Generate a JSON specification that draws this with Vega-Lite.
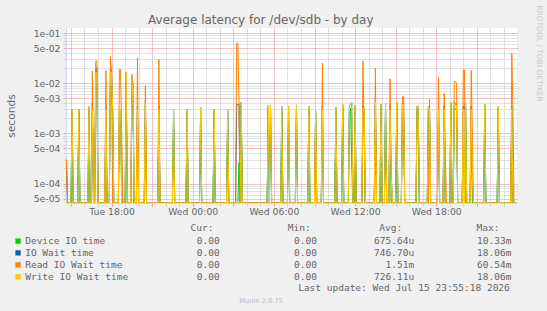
{
"$schema": "https://vega.github.io/schema/vega-lite/v6.json",
"width": 451, "height": 175,
"autosize": {"type": "none"},
"padding": {"left": 66, "top": 28, "right": 30, "bottom": 108},
"background": "#F0F0F0",
"title": {"text": "Average latency for /dev/sdb - by day", "font": "DejaVu Sans", "fontSize": 12, "fontWeight": "normal", "color": "#666666", "anchor": "middle", "frame": "group", "offset": 4, "dx": -30.7, "dy": 35.3, "baseline": "alphabetic"},
"data": {"values": [
{"t":"2026-07-14T14:35Z","d":1e-6,"i":1e-6,"r":1e-6,"w":1e-6},
{"t":"2026-07-14T14:40Z","d":1e-6,"i":3e-4,"r":3e-4,"w":1e-6},
{"t":"2026-07-14T14:45Z","d":1e-6,"i":1e-6,"r":1e-6,"w":1e-6},
{"t":"2026-07-14T15:00Z","d":1e-6,"i":1e-6,"r":1e-6,"w":1e-6},
{"t":"2026-07-14T15:05Z","d":2.6e-3,"i":3e-3,"r":1e-6,"w":3e-3},
{"t":"2026-07-14T15:10Z","d":1e-6,"i":1e-6,"r":1e-6,"w":1e-6},
{"t":"2026-07-14T15:30Z","d":1e-6,"i":1e-6,"r":1e-6,"w":1e-6},
{"t":"2026-07-14T15:35Z","d":2.6e-3,"i":3e-3,"r":1e-6,"w":3e-3},
{"t":"2026-07-14T15:40Z","d":1e-6,"i":1e-6,"r":1e-6,"w":1e-6},
{"t":"2026-07-14T16:15Z","d":1e-6,"i":1e-6,"r":1e-6,"w":1e-6},
{"t":"2026-07-14T16:20Z","d":2.9e-3,"i":3.4e-3,"r":1e-6,"w":3.4e-3},
{"t":"2026-07-14T16:25Z","d":1e-6,"i":1e-6,"r":1e-6,"w":1e-6},
{"t":"2026-07-14T16:30Z","d":1e-6,"i":1e-6,"r":1e-6,"w":1e-6},
{"t":"2026-07-14T16:35Z","d":2.6e-3,"i":4e-3,"r":0.0176,"w":3e-3},
{"t":"2026-07-14T16:40Z","d":1e-6,"i":1e-6,"r":1e-6,"w":1e-6},
{"t":"2026-07-14T16:45Z","d":1e-6,"i":1e-6,"r":1e-6,"w":1e-6},
{"t":"2026-07-14T16:50Z","d":0.01,"i":0.02,"r":0.028,"w":0.016},
{"t":"2026-07-14T16:55Z","d":0.01,"i":0.02,"r":0.028,"w":0.016},
{"t":"2026-07-14T17:00Z","d":1e-6,"i":1e-6,"r":1e-6,"w":1e-6},
{"t":"2026-07-14T17:30Z","d":1e-6,"i":1e-6,"r":1e-6,"w":1e-6},
{"t":"2026-07-14T17:35Z","d":2.6e-3,"i":3.5e-3,"r":0.0176,"w":3e-3},
{"t":"2026-07-14T17:40Z","d":1e-6,"i":1e-6,"r":1e-6,"w":1e-6},
{"t":"2026-07-14T17:50Z","d":1e-6,"i":1e-6,"r":1e-6,"w":1e-6},
{"t":"2026-07-14T17:55Z","d":0.01,"i":0.02,"r":0.034,"w":0.017},
{"t":"2026-07-14T18:00Z","d":0.008,"i":0.016,"r":0.016,"w":0.016},
{"t":"2026-07-14T18:05Z","d":2.6e-3,"i":3e-3,"r":1e-6,"w":3e-3},
{"t":"2026-07-14T18:10Z","d":1e-6,"i":1e-6,"r":1e-6,"w":1e-6},
{"t":"2026-07-14T18:30Z","d":1e-6,"i":1e-6,"r":1e-6,"w":1e-6},
{"t":"2026-07-14T18:35Z","d":2.6e-3,"i":3e-3,"r":0.019,"w":3e-3},
{"t":"2026-07-14T18:40Z","d":2.6e-3,"i":3e-3,"r":0.019,"w":3e-3},
{"t":"2026-07-14T18:45Z","d":1e-6,"i":1.3e-4,"r":9.3e-4,"w":1e-6},
{"t":"2026-07-14T18:50Z","d":1e-6,"i":1e-6,"r":1e-6,"w":1e-6},
{"t":"2026-07-14T19:00Z","d":1e-6,"i":1e-6,"r":1e-6,"w":1e-6},
{"t":"2026-07-14T19:05Z","d":0.01,"i":0.0166,"r":1e-6,"w":0.0166},
{"t":"2026-07-14T19:10Z","d":1e-6,"i":1e-6,"r":1e-6,"w":1e-6},
{"t":"2026-07-14T19:25Z","d":1e-6,"i":1e-6,"r":1e-6,"w":1e-6},
{"t":"2026-07-14T19:30Z","d":2.6e-3,"i":3.5e-3,"r":0.015,"w":3e-3},
{"t":"2026-07-14T19:35Z","d":6e-3,"i":0.01,"r":0.01,"w":0.01},
{"t":"2026-07-14T19:40Z","d":1e-6,"i":1e-6,"r":1e-6,"w":1e-6},
{"t":"2026-07-14T19:50Z","d":1e-6,"i":1e-6,"r":1e-6,"w":1e-6},
{"t":"2026-07-14T19:55Z","d":2.6e-3,"i":3.5e-3,"r":0.032,"w":3e-3},
{"t":"2026-07-14T20:00Z","d":1e-6,"i":1e-6,"r":1e-6,"w":1e-6},
{"t":"2026-07-14T20:25Z","d":1e-6,"i":1e-6,"r":1e-6,"w":1e-6},
{"t":"2026-07-14T20:30Z","d":3.5e-3,"i":4.5e-3,"r":8.8e-3,"w":4.1e-3},
{"t":"2026-07-14T20:35Z","d":1e-6,"i":1e-6,"r":1e-6,"w":1e-6},
{"t":"2026-07-14T21:25Z","d":1e-6,"i":1e-6,"r":1e-6,"w":1e-6},
{"t":"2026-07-14T21:30Z","d":2.6e-3,"i":3.5e-3,"r":0.03,"w":3e-3},
{"t":"2026-07-14T21:35Z","d":1e-6,"i":1e-6,"r":1e-6,"w":1e-6},
{"t":"2026-07-14T22:30Z","d":1e-6,"i":1e-6,"r":1e-6,"w":1e-6},
{"t":"2026-07-14T22:35Z","d":2.6e-3,"i":3e-3,"r":1e-6,"w":3e-3},
{"t":"2026-07-14T22:40Z","d":1e-6,"i":1e-6,"r":1e-6,"w":1e-6},
{"t":"2026-07-14T23:30Z","d":1e-6,"i":1e-6,"r":1e-6,"w":1e-6},
{"t":"2026-07-14T23:35Z","d":2.6e-3,"i":3e-3,"r":1e-6,"w":3e-3},
{"t":"2026-07-14T23:40Z","d":1e-6,"i":1e-6,"r":1e-6,"w":1e-6},
{"t":"2026-07-15T00:30Z","d":1e-6,"i":1e-6,"r":1e-6,"w":1e-6},
{"t":"2026-07-15T00:35Z","d":2.8e-3,"i":3.3e-3,"r":1e-6,"w":3.3e-3},
{"t":"2026-07-15T00:40Z","d":1e-6,"i":1e-6,"r":1e-6,"w":1e-6},
{"t":"2026-07-15T01:30Z","d":1e-6,"i":1e-6,"r":1e-6,"w":1e-6},
{"t":"2026-07-15T01:35Z","d":2.6e-3,"i":3e-3,"r":1e-6,"w":3e-3},
{"t":"2026-07-15T01:40Z","d":1e-6,"i":1e-6,"r":1e-6,"w":1e-6},
{"t":"2026-07-15T02:30Z","d":1e-6,"i":1e-6,"r":1e-6,"w":1e-6},
{"t":"2026-07-15T02:35Z","d":2.6e-3,"i":3e-3,"r":1e-6,"w":3e-3},
{"t":"2026-07-15T02:40Z","d":1e-6,"i":1e-6,"r":1e-6,"w":1e-6},
{"t":"2026-07-15T03:10Z","d":1e-6,"i":1e-6,"r":1e-6,"w":1e-6},
{"t":"2026-07-15T03:15Z","d":1e-6,"i":3.8e-3,"r":0.063,"w":1e-6},
{"t":"2026-07-15T03:20Z","d":1e-6,"i":3.8e-3,"r":0.063,"w":1e-6},
{"t":"2026-07-15T03:25Z","d":2.6e-4,"i":3.8e-3,"r":4.5e-3,"w":1e-6},
{"t":"2026-07-15T03:30Z","d":1e-6,"i":1e-6,"r":1e-6,"w":1e-6},
{"t":"2026-07-15T03:35Z","d":3.5e-3,"i":4.2e-3,"r":1e-6,"w":4.2e-3},
{"t":"2026-07-15T03:40Z","d":1e-6,"i":1e-6,"r":1e-6,"w":1e-6},
{"t":"2026-07-15T05:30Z","d":1e-6,"i":1e-6,"r":1e-6,"w":1e-6},
{"t":"2026-07-15T05:35Z","d":3e-3,"i":3.6e-3,"r":1e-6,"w":3.6e-3},
{"t":"2026-07-15T05:40Z","d":1e-6,"i":1e-6,"r":1e-6,"w":1e-6},
{"t":"2026-07-15T05:45Z","d":3e-3,"i":3.6e-3,"r":1e-6,"w":3.6e-3},
{"t":"2026-07-15T05:50Z","d":1e-6,"i":1e-6,"r":1e-6,"w":1e-6},
{"t":"2026-07-15T06:30Z","d":1e-6,"i":1e-6,"r":1e-6,"w":1e-6},
{"t":"2026-07-15T06:35Z","d":2.9e-3,"i":3.4e-3,"r":1e-6,"w":3.4e-3},
{"t":"2026-07-15T06:40Z","d":1e-6,"i":1e-6,"r":1e-6,"w":1e-6},
{"t":"2026-07-15T07:00Z","d":1e-6,"i":1e-6,"r":1e-6,"w":1e-6},
{"t":"2026-07-15T07:05Z","d":3e-3,"i":3.5e-3,"r":1e-6,"w":3.5e-3},
{"t":"2026-07-15T07:10Z","d":1e-6,"i":1e-6,"r":1e-6,"w":1e-6},
{"t":"2026-07-15T07:35Z","d":1e-6,"i":1e-6,"r":1e-6,"w":1e-6},
{"t":"2026-07-15T07:40Z","d":3.1e-3,"i":3.7e-3,"r":1e-6,"w":3.7e-3},
{"t":"2026-07-15T07:45Z","d":1e-6,"i":1e-6,"r":1e-6,"w":1e-6},
{"t":"2026-07-15T08:30Z","d":1e-6,"i":1e-6,"r":1e-6,"w":1e-6},
{"t":"2026-07-15T08:35Z","d":2.9e-3,"i":3.4e-3,"r":1e-6,"w":3.4e-3},
{"t":"2026-07-15T08:40Z","d":1e-6,"i":1e-6,"r":1e-6,"w":1e-6},
{"t":"2026-07-15T09:00Z","d":1e-6,"i":1e-6,"r":1e-6,"w":1e-6},
{"t":"2026-07-15T09:05Z","d":2.4e-3,"i":2.8e-3,"r":2.8e-3,"w":2.8e-3},
{"t":"2026-07-15T09:10Z","d":1e-6,"i":1e-6,"r":1e-6,"w":1e-6},
{"t":"2026-07-15T09:30Z","d":1e-6,"i":1e-6,"r":1e-6,"w":1e-6},
{"t":"2026-07-15T09:35Z","d":2.6e-3,"i":3.5e-3,"r":0.025,"w":3e-3},
{"t":"2026-07-15T09:40Z","d":1e-6,"i":1e-6,"r":1e-6,"w":1e-6},
{"t":"2026-07-15T10:30Z","d":1e-6,"i":1e-6,"r":1e-6,"w":1e-6},
{"t":"2026-07-15T10:35Z","d":2.8e-3,"i":3.3e-3,"r":1e-6,"w":3.3e-3},
{"t":"2026-07-15T10:40Z","d":1e-6,"i":1e-6,"r":1e-6,"w":1e-6},
{"t":"2026-07-15T11:00Z","d":1e-6,"i":1e-6,"r":1e-6,"w":1e-6},
{"t":"2026-07-15T11:05Z","d":3.2e-3,"i":3.8e-3,"r":1e-6,"w":3.8e-3},
{"t":"2026-07-15T11:10Z","d":1e-6,"i":1e-6,"r":1e-6,"w":1e-6},
{"t":"2026-07-15T11:30Z","d":1e-6,"i":1e-6,"r":1e-6,"w":1e-6},
{"t":"2026-07-15T11:35Z","d":3e-3,"i":3.6e-3,"r":1e-6,"w":3.6e-3},
{"t":"2026-07-15T11:40Z","d":3.2e-3,"i":3.8e-3,"r":1e-6,"w":3.8e-3},
{"t":"2026-07-15T11:45Z","d":2.8e-4,"i":4.2e-3,"r":1e-6,"w":4.2e-3},
{"t":"2026-07-15T11:50Z","d":1e-6,"i":1e-6,"r":1e-6,"w":1e-6},
{"t":"2026-07-15T11:55Z","d":1e-6,"i":1e-6,"r":1e-6,"w":1e-6},
{"t":"2026-07-15T12:00Z","d":3e-3,"i":3.6e-3,"r":1e-6,"w":3.6e-3},
{"t":"2026-07-15T12:05Z","d":1e-6,"i":1e-6,"r":1e-6,"w":1e-6},
{"t":"2026-07-15T12:30Z","d":1e-6,"i":1e-6,"r":1e-6,"w":1e-6},
{"t":"2026-07-15T12:35Z","d":2.6e-3,"i":3.5e-3,"r":0.028,"w":3e-3},
{"t":"2026-07-15T12:40Z","d":2.7e-3,"i":3.2e-3,"r":1.1e-3,"w":3.2e-3},
{"t":"2026-07-15T12:45Z","d":1e-6,"i":1e-6,"r":1e-6,"w":1e-6},
{"t":"2026-07-15T13:25Z","d":1e-6,"i":1e-6,"r":1e-6,"w":1e-6},
{"t":"2026-07-15T13:30Z","d":3.6e-3,"i":4.5e-3,"r":0.02,"w":4.3e-3},
{"t":"2026-07-15T13:35Z","d":1e-6,"i":1e-6,"r":1e-6,"w":1e-6},
{"t":"2026-07-15T13:50Z","d":1e-6,"i":1e-6,"r":1e-6,"w":1e-6},
{"t":"2026-07-15T13:55Z","d":3.2e-3,"i":3.8e-3,"r":1e-6,"w":3.8e-3},
{"t":"2026-07-15T14:00Z","d":1e-6,"i":1e-6,"r":1e-6,"w":1e-6},
{"t":"2026-07-15T14:10Z","d":1e-6,"i":1e-6,"r":1e-6,"w":1e-6},
{"t":"2026-07-15T14:15Z","d":3.4e-3,"i":4e-3,"r":1e-6,"w":4e-3},
{"t":"2026-07-15T14:20Z","d":1e-6,"i":1e-6,"r":1e-6,"w":1e-6},
{"t":"2026-07-15T14:30Z","d":1e-6,"i":1e-6,"r":1e-6,"w":1e-6},
{"t":"2026-07-15T14:35Z","d":2.6e-3,"i":3.5e-3,"r":0.0122,"w":3e-3},
{"t":"2026-07-15T14:40Z","d":1e-6,"i":1.5e-4,"r":1.7e-4,"w":1.5e-4},
{"t":"2026-07-15T14:45Z","d":1e-6,"i":1e-6,"r":1e-6,"w":1e-6},
{"t":"2026-07-15T15:00Z","d":1e-6,"i":1e-6,"r":1e-6,"w":1e-6},
{"t":"2026-07-15T15:05Z","d":3.5e-3,"i":4.2e-3,"r":1e-6,"w":4.2e-3},
{"t":"2026-07-15T15:10Z","d":1e-6,"i":1e-6,"r":1e-6,"w":1e-6},
{"t":"2026-07-15T15:25Z","d":1e-6,"i":1e-6,"r":1e-6,"w":1e-6},
{"t":"2026-07-15T15:30Z","d":3.2e-3,"i":4e-3,"r":5.4e-3,"w":3.8e-3},
{"t":"2026-07-15T15:35Z","d":3.2e-3,"i":4e-3,"r":5.4e-3,"w":3.8e-3},
{"t":"2026-07-15T15:40Z","d":1e-6,"i":1e-6,"r":1e-6,"w":1e-6},
{"t":"2026-07-15T16:30Z","d":1e-6,"i":1e-6,"r":1e-6,"w":1e-6},
{"t":"2026-07-15T16:35Z","d":3e-3,"i":3.5e-3,"r":1e-6,"w":3.5e-3},
{"t":"2026-07-15T16:40Z","d":3e-3,"i":3.5e-3,"r":1e-6,"w":3.5e-3},
{"t":"2026-07-15T16:45Z","d":1e-6,"i":1e-6,"r":1e-6,"w":1e-6},
{"t":"2026-07-15T17:20Z","d":1e-6,"i":1e-6,"r":1e-6,"w":1e-6},
{"t":"2026-07-15T17:25Z","d":2.9e-3,"i":3.4e-3,"r":1e-6,"w":3.4e-3},
{"t":"2026-07-15T17:30Z","d":2.6e-3,"i":3.5e-3,"r":4.8e-3,"w":3e-3},
{"t":"2026-07-15T17:35Z","d":1e-6,"i":1e-6,"r":1e-6,"w":1e-6},
{"t":"2026-07-15T18:05Z","d":1e-6,"i":1e-6,"r":1e-6,"w":1e-6},
{"t":"2026-07-15T18:10Z","d":2.6e-3,"i":3.5e-3,"r":0.013,"w":3e-3},
{"t":"2026-07-15T18:15Z","d":1e-6,"i":1e-6,"r":1e-6,"w":1e-6},
{"t":"2026-07-15T18:30Z","d":1e-6,"i":1e-6,"r":1e-6,"w":1e-6},
{"t":"2026-07-15T18:35Z","d":2.6e-3,"i":3.5e-3,"r":6.3e-3,"w":3e-3},
{"t":"2026-07-15T18:40Z","d":1e-6,"i":1e-6,"r":5.2e-4,"w":1e-6},
{"t":"2026-07-15T18:45Z","d":1e-6,"i":1e-6,"r":1e-6,"w":1e-6},
{"t":"2026-07-15T19:00Z","d":1e-6,"i":1e-6,"r":1e-6,"w":1e-6},
{"t":"2026-07-15T19:05Z","d":3.5e-3,"i":4.2e-3,"r":1e-6,"w":4.2e-3},
{"t":"2026-07-15T19:10Z","d":1e-6,"i":1e-6,"r":1e-6,"w":1e-6},
{"t":"2026-07-15T19:15Z","d":1e-6,"i":1e-6,"r":1e-6,"w":1e-6},
{"t":"2026-07-15T19:20Z","d":3.4e-3,"i":4.2e-3,"r":0.0108,"w":4e-3},
{"t":"2026-07-15T19:25Z","d":3e-3,"i":3.8e-3,"r":0.0108,"w":3.5e-3},
{"t":"2026-07-15T19:30Z","d":3e-3,"i":3.8e-3,"r":0.01,"w":3.6e-3},
{"t":"2026-07-15T19:35Z","d":1e-6,"i":1e-6,"r":1e-6,"w":1e-6},
{"t":"2026-07-15T19:55Z","d":1e-6,"i":1e-6,"r":1e-6,"w":1e-6},
{"t":"2026-07-15T20:00Z","d":2.6e-3,"i":3.5e-3,"r":0.0185,"w":3e-3},
{"t":"2026-07-15T20:05Z","d":1e-6,"i":3e-3,"r":0.0185,"w":1e-6},
{"t":"2026-07-15T20:10Z","d":3.5e-3,"i":4.2e-3,"r":1e-6,"w":4.2e-3},
{"t":"2026-07-15T20:15Z","d":1e-6,"i":1e-6,"r":1e-6,"w":1e-6},
{"t":"2026-07-15T20:30Z","d":1e-6,"i":1e-6,"r":1e-6,"w":1e-6},
{"t":"2026-07-15T20:35Z","d":2.6e-3,"i":3.5e-3,"r":0.018,"w":3e-3},
{"t":"2026-07-15T20:40Z","d":1e-6,"i":1.3e-4,"r":1.2e-3,"w":1.5e-4},
{"t":"2026-07-15T20:45Z","d":1e-6,"i":1e-6,"r":1e-6,"w":1e-6},
{"t":"2026-07-15T21:30Z","d":1e-6,"i":1e-6,"r":1e-6,"w":1e-6},
{"t":"2026-07-15T21:35Z","d":3.2e-3,"i":3.8e-3,"r":1e-6,"w":3.8e-3},
{"t":"2026-07-15T21:40Z","d":1e-6,"i":1e-6,"r":1e-6,"w":1e-6},
{"t":"2026-07-15T22:30Z","d":1e-6,"i":1e-6,"r":1e-6,"w":1e-6},
{"t":"2026-07-15T22:35Z","d":3e-3,"i":3.5e-3,"r":1e-6,"w":3.5e-3},
{"t":"2026-07-15T22:40Z","d":1e-6,"i":1e-6,"r":1e-6,"w":1e-6},
{"t":"2026-07-15T23:30Z","d":1e-6,"i":1e-6,"r":1e-6,"w":1e-6},
{"t":"2026-07-15T23:35Z","d":2.6e-3,"i":3.5e-3,"r":0.04,"w":3e-3},
{"t":"2026-07-15T23:40Z","d":1e-6,"i":1e-6,"r":2.7e-3,"w":1e-6},
{"t":"2026-07-15T23:45Z","d":1e-6,"i":1e-6,"r":1e-6,"w":1e-6},
{"t":"2026-07-15T23:55Z","d":1e-6,"i":1e-6,"r":1e-6,"w":1e-6}
]},
"transform": [{"fold": ["d", "i", "r", "w"], "as": ["s", "v"]}],
"layer": [
  {"transform": [{"filter": "datum.s === 'd'"}],
   "mark": {"type": "line", "strokeWidth": 1, "clip": true},
   "encoding": {
    "x": {"field": "t", "type": "temporal",
      "scale": {"type": "utc", "domain": [1784039880000, 1784159880000]},
      "axis": {"orient": "bottom", "tickCount": 34,
        "labelExpr": "utchours(datum.value) % 6 === 0 ? utcFormat(datum.value, '%a %H:%M') : ''",
        "labelOverlap": false, "labelFlush": false, "labelFont": "DejaVu Sans", "labelFontSize": 9.3, "labelColor": "#666666", "labelPadding": 1,
        "ticks": true, "tickSize": 3,
        "tickColor": {"condition": {"test": "utchours(datum.value) % 3 === 0", "value": "#EBA0A0"}, "value": "#D0D0D0"},
        "grid": true, "gridDash": [1, 1],
        "gridColor": {"condition": {"test": "utchours(datum.value) % 3 === 0", "value": "#E88888"}, "value": "#C4C4C4"},
        "domain": true, "domainColor": "#CFD6F8",
        "title": "Last update: Wed Jul 15 23:55:18 2026", "titleFont": "DejaVu Sans Mono", "titleFontSize": 9.5, "titleFontWeight": "normal", "titleColor": "#666666",
        "titleX": 443.3, "titleY": 84.7, "titleAlign": "right", "titleBaseline": "middle"}},
    "y": {"field": "v", "type": "quantitative",
      "scale": {"type": "log", "domain": [4.1e-5, 0.126], "clamp": true, "nice": false},
      "axis": {"orient": "left",
        "labelExpr": "indexof('15', slice(format(datum.value, '.0e'), 0, 1)) >= 0 ? replace(format(datum.value, '.0e'), 'e-', 'e-0') : ''",
        "labelOverlap": false, "labelFont": "DejaVu Sans", "labelFontSize": 9.3, "labelColor": "#666666", "labelPadding": 3,
        "ticks": true, "tickSize": 3,
        "tickColor": {"condition": {"test": "indexof('15', slice(format(datum.value, '.0e'), 0, 1)) >= 0", "value": "#EBA0A0"}, "value": "#D0D0D0"},
        "grid": true, "gridDash": [1, 1],
        "gridColor": {"condition": {"test": "indexof('15', slice(format(datum.value, '.0e'), 0, 1)) >= 0", "value": "#E88888"}, "value": "#C4C4C4"},
        "domain": true, "domainColor": "#CFD6F8",
        "title": "seconds", "titleFont": "DejaVu Sans", "titleFontSize": 10.7, "titleFontWeight": "normal", "titleColor": "#666666",
        "titleX": -55, "titleY": 87.5, "titleAngle": -90, "titleAlign": "center", "titleBaseline": "middle"}},
    "color": {"field": "s", "type": "nominal",
      "scale": {"domain": ["d", "i", "r", "w"], "range": ["#00CC00", "#0066B3", "#FF8000", "#FFCC00"]},
      "legend": {"orient": "none", "legendX": -52.7, "legendY": 195.3, "direction": "vertical", "padding": 0,
        "title": "\u200b\u00a0\u00a0\u00a0\u00a0\u00a0\u00a0\u00a0\u00a0\u00a0\u00a0\u00a0\u00a0\u00a0\u00a0\u00a0\u00a0\u00a0\u00a0\u00a0\u00a0\u00a0\u00a0\u00a0\u00a0\u00a0\u00a0\u00a0\u00a0\u00a0\u00a0\u00a0Cur:\u00a0\u00a0\u00a0\u00a0\u00a0\u00a0\u00a0\u00a0\u00a0\u00a0\u00a0\u00a0\u00a0Min:\u00a0\u00a0\u00a0\u00a0\u00a0\u00a0\u00a0\u00a0\u00a0\u00a0\u00a0\u00a0Avg:\u00a0\u00a0\u00a0\u00a0\u00a0\u00a0\u00a0\u00a0\u00a0\u00a0\u00a0\u00a0\u00a0Max:",
        "titleFont": "DejaVu Sans Mono", "titleFontSize": 9.5, "titleFontWeight": "normal", "titleColor": "#666666", "titleLimit": 1000, "titlePadding": 3.5,
        "labelFont": "DejaVu Sans Mono", "labelFontSize": 9.5, "labelColor": "#666666", "labelLimit": 1000, "labelOffset": 2.4,
        "rowPadding": 0.9, "clipHeight": 9.5, "symbolType": "square", "symbolSize": 7, "symbolStrokeWidth": 2.65, "symbolOpacity": 1,
        "labelExpr": "datum.value === 'd' ? 'Device IO time\u00a0\u00a0\u00a0\u00a0\u00a0\u00a0\u00a0\u00a0\u00a0\u00a0\u00a0\u00a0\u00a0\u00a0\u00a0\u00a00.00\u00a0\u00a0\u00a0\u00a0\u00a0\u00a0\u00a0\u00a0\u00a0\u00a0\u00a0\u00a0\u00a00.00\u00a0\u00a0\u00a0\u00a0\u00a0\u00a0\u00a0\u00a0\u00a0\u00a0675.64u\u00a0\u00a0\u00a0\u00a0\u00a0\u00a0\u00a0\u00a0\u00a0\u00a0\u00a010.33m' : datum.value === 'i' ? 'IO Wait time\u00a0\u00a0\u00a0\u00a0\u00a0\u00a0\u00a0\u00a0\u00a0\u00a0\u00a0\u00a0\u00a0\u00a0\u00a0\u00a0\u00a0\u00a00.00\u00a0\u00a0\u00a0\u00a0\u00a0\u00a0\u00a0\u00a0\u00a0\u00a0\u00a0\u00a0\u00a00.00\u00a0\u00a0\u00a0\u00a0\u00a0\u00a0\u00a0\u00a0\u00a0\u00a0746.70u\u00a0\u00a0\u00a0\u00a0\u00a0\u00a0\u00a0\u00a0\u00a0\u00a0\u00a018.06m' : datum.value === 'r' ? 'Read IO Wait time\u00a0\u00a0\u00a0\u00a0\u00a0\u00a0\u00a0\u00a0\u00a0\u00a0\u00a0\u00a0\u00a00.00\u00a0\u00a0\u00a0\u00a0\u00a0\u00a0\u00a0\u00a0\u00a0\u00a0\u00a0\u00a0\u00a00.00\u00a0\u00a0\u00a0\u00a0\u00a0\u00a0\u00a0\u00a0\u00a0\u00a0\u00a0\u00a01.51m\u00a0\u00a0\u00a0\u00a0\u00a0\u00a0\u00a0\u00a0\u00a0\u00a0\u00a060.54m' : 'Write IO Wait time\u00a0\u00a0\u00a0\u00a0\u00a0\u00a0\u00a0\u00a0\u00a0\u00a0\u00a0\u00a00.00\u00a0\u00a0\u00a0\u00a0\u00a0\u00a0\u00a0\u00a0\u00a0\u00a0\u00a0\u00a0\u00a00.00\u00a0\u00a0\u00a0\u00a0\u00a0\u00a0\u00a0\u00a0\u00a0\u00a0726.11u\u00a0\u00a0\u00a0\u00a0\u00a0\u00a0\u00a0\u00a0\u00a0\u00a0\u00a018.06m'"}}}},
  {"transform": [{"filter": "datum.s === 'i'"}],
   "mark": {"type": "line", "strokeWidth": 1, "clip": true},
   "encoding": {"x": {"field": "t", "type": "temporal", "axis": null}, "y": {"field": "v", "type": "quantitative", "axis": null}, "color": {"field": "s", "type": "nominal"}}},
  {"transform": [{"filter": "datum.s === 'r'"}],
   "mark": {"type": "line", "strokeWidth": 1, "clip": true},
   "encoding": {"x": {"field": "t", "type": "temporal", "axis": null}, "y": {"field": "v", "type": "quantitative", "axis": null}, "color": {"field": "s", "type": "nominal"}}},
  {"transform": [{"filter": "datum.s === 'w'"}],
   "mark": {"type": "line", "strokeWidth": 1, "clip": true},
   "encoding": {"x": {"field": "t", "type": "temporal", "axis": null}, "y": {"field": "v", "type": "quantitative", "axis": null}, "color": {"field": "s", "type": "nominal"}}},
  {"transform": [{"filter": "datum.s === 'd'"}],
   "mark": {"type": "point", "opacity": 0},
   "encoding": {
    "x": {"field": "t", "type": "temporal",
      "axis": {"orient": "bottom", "labels": false, "ticks": false, "domain": false, "grid": false,
        "title": "Munin 2.0.75", "titleFont": "DejaVu Sans", "titleFontSize": 6.7, "titleFontWeight": "normal", "titleColor": "#BBBBBB",
        "titleX": 194.7, "titleY": 97, "titleAlign": "center", "titleBaseline": "middle"}},
    "y": {"field": "v", "type": "quantitative",
      "axis": {"orient": "right", "labels": false, "ticks": false, "domain": false, "grid": false,
        "title": "RRDTOOL / TOBI OETIKER", "titleFont": "DejaVu Sans", "titleFontSize": 7.5, "titleFontWeight": "normal", "titleColor": "#C8C8C8",
        "titleX": 21, "titleY": 25, "titleAngle": 90, "titleAlign": "center", "titleBaseline": "middle"}}}}
],
"resolve": {"axis": {"x": "independent", "y": "independent"}},
"config": {"view": {"fill": "#FFFFFF", "stroke": null}}
}
